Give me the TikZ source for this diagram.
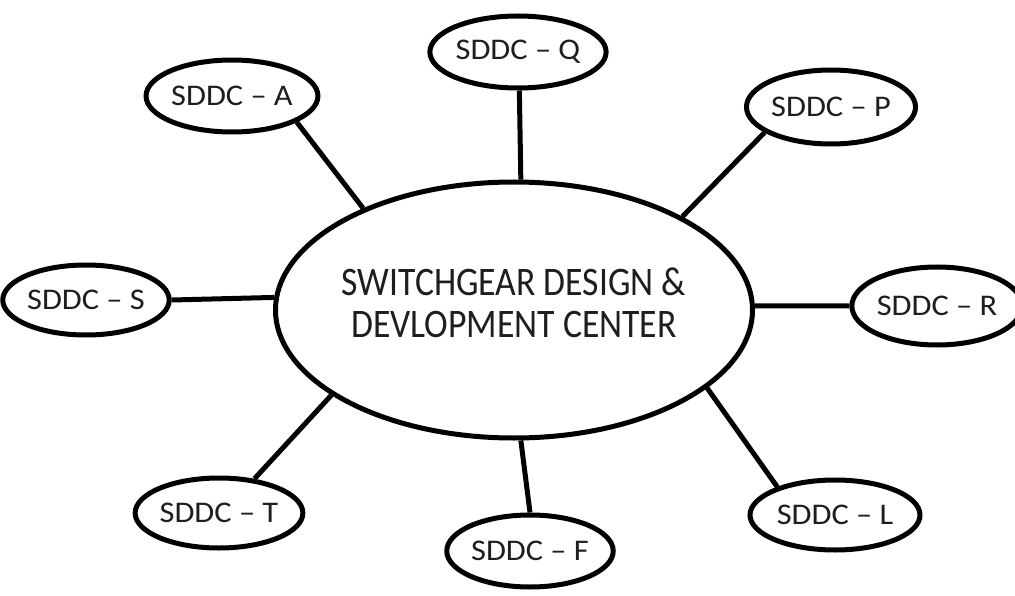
\documentclass[tikz,border=0pt]{standalone}
\usepackage{fontspec}
\setmainfont{Carlito}
\newfontfamily\hubfont{Carlito}[FakeStretch=0.88]
\newfontfamily\satfont{Carlito}[FakeStretch=1.08]
\usetikzlibrary{shapes.geometric}
\definecolor{txt}{HTML}{1E1E1E}
\begin{document}
\begin{tikzpicture}[x=1pt,y=-1pt,
  sat/.style={ellipse,draw=black,line width=5pt,inner sep=0pt,text=txt,font=\satfont\fontsize{30}{32}\selectfont},
  hub/.style={ellipse,draw=black,line width=5pt,inner sep=0pt},
  hubtext/.style={text=txt,align=center,font=\hubfont\fontsize{40.5}{41.5}\selectfont},
  link/.style={draw=black,line width=5pt}]
\useasboundingbox[fill=white] (0,0) rectangle (1015,596);
\node[hub,minimum width=477pt,minimum height=256pt,
  label={[hubtext,yshift=7pt]center:SWITCHGEAR DESIGN \&\\DEVLOPMENT CENTER}] (main) at (514,310) {};
\node[sat,minimum width=166pt,minimum height=72pt] (A) at (232,96) {SDDC – A};
\node[sat,minimum width=167pt,minimum height=72pt] (Q) at (518,52) {SDDC – Q};
\node[sat,minimum width=163pt,minimum height=74pt] (P) at (831,107) {SDDC – P};
\node[sat,minimum width=148pt,minimum height=70pt] (S) at (86,300) {SDDC – S};
\node[sat,minimum width=142pt,minimum height=78pt] (R) at (937,306) {SDDC – R};
\node[sat,minimum width=160pt,minimum height=70pt] (T) at (219,513) {SDDC – T};
\node[sat,minimum width=163pt,minimum height=72pt] (F) at (530,551) {SDDC – F};
\node[sat,minimum width=170pt,minimum height=70pt] (L) at (835,515) {SDDC – L};
\draw[link] (A.-22) -- (main.146);
\draw[link] (Q.-88) -- (main.87.5);
\draw[link] (P.201) -- (main.29.5);
\draw[link] (S.0) -- (main.177.6);
\draw[link] (R.180) -- (main.1.2);
\draw[link] (T.44) -- (main.205);
\draw[link] (F.90) -- (main.273);
\draw[link] (L.154) -- (main.-22.6);
\end{tikzpicture}
\end{document}
